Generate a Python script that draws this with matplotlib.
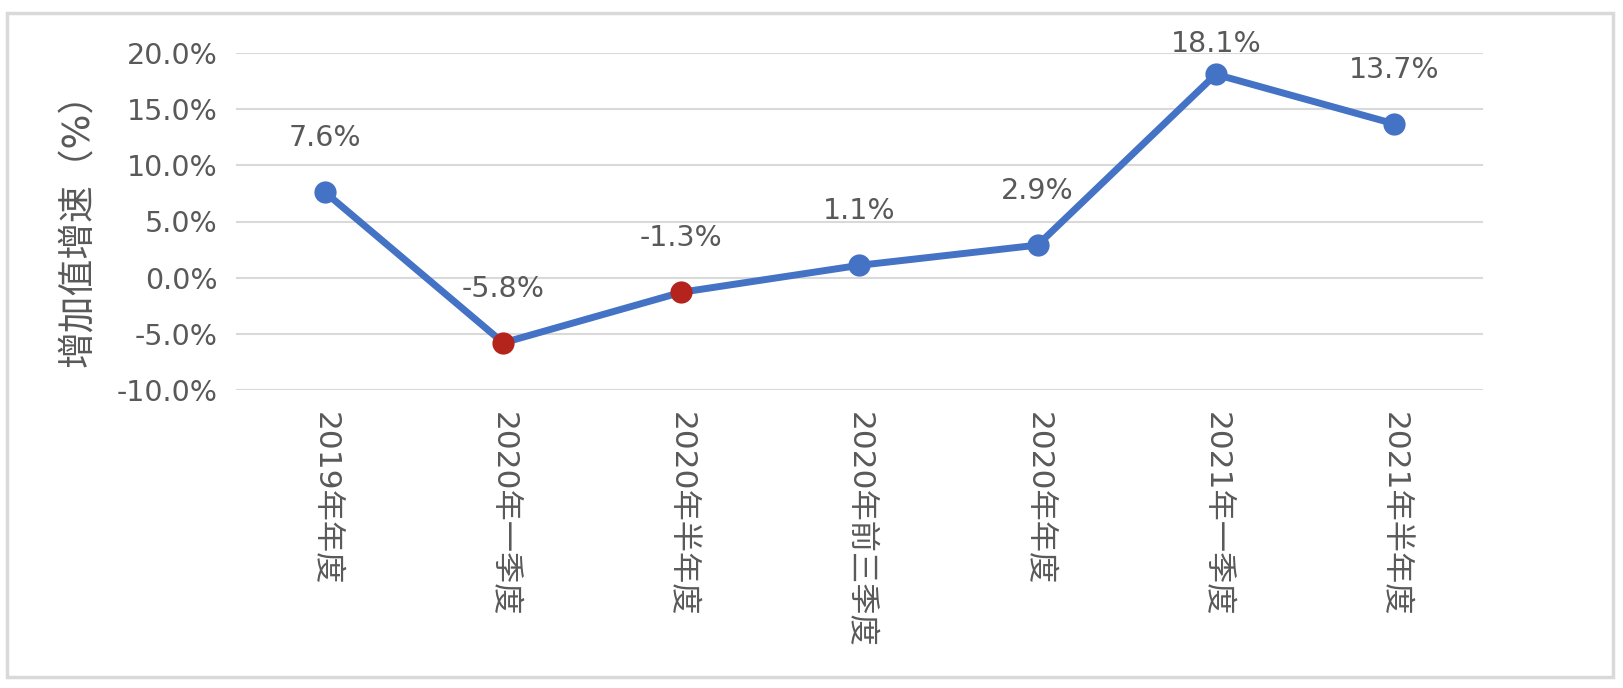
import matplotlib
matplotlib.use("Agg")
import matplotlib.pyplot as plt
from matplotlib.patches import Rectangle
from matplotlib.ticker import FuncFormatter

plt.rcParams['font.family'] = ['DejaVu Sans', 'Noto Sans CJK SC']

categories = ["2019年年度", "2020年一季度", "2020年半年度", "2020年前三季度",
              "2020年年度", "2021年一季度", "2021年半年度"]
values = [7.6, -5.8, -1.3, 1.1, 2.9, 18.1, 13.7]
highlight = [False, True, True, False, False, False, False]
y_ticks = [-10, -5, 0, 5, 10, 15, 20]
y_label = "增加值增速（%）"

line_color = "#4472C4"
red_color = "#B5231D"
text_color = "#595959"
grid_color = "#D9D9D9"

fig = plt.figure(figsize=(16.24, 6.88), dpi=100)
ax = fig.add_axes([236/1624, 1-390/688, (1483-236)/1624, (390-53)/688])

x = list(range(len(categories)))
ax.plot(x, values, color=line_color, lw=5, zorder=3, solid_capstyle='round')
for xi, v, h in zip(x, values, highlight):
    ax.plot([xi], [v], 'o', ms=16, color=red_color if h else line_color,
            markeredgewidth=0, zorder=4)
    off = 21.5 if v == max(values) else 39
    ax.annotate(f"{v:.1f}%", (xi, v), xytext=(0, off), textcoords='offset points',
                ha='center', va='center', fontsize=20.5, color=text_color, zorder=5)

ax.set_xlim(-0.5, len(categories) - 0.5)
ax.set_ylim(min(y_ticks), max(y_ticks))
ax.set_yticks(y_ticks)
ax.yaxis.set_major_formatter(FuncFormatter(lambda v, p: f"{v:.1f}%"))
ax.set_xticks(x)
ax.set_xticklabels(categories, rotation=-90, va='top', ha='center')
ax.tick_params(axis='x', length=0, pad=16, labelsize=22.5, labelcolor=text_color)
ax.tick_params(axis='y', length=0, pad=13, labelsize=20.5, labelcolor=text_color)
ax.grid(axis='y', color=grid_color, lw=1.5, zorder=0)
ax.set_axisbelow(True)
for s in ax.spines.values():
    s.set_visible(False)

fig.text(78/1624, 1-221/688, y_label, rotation=90, ha='center', va='center',
         fontsize=26.5, color=text_color)

fig.patches.append(Rectangle((7/1624, 1-677/688), (1613-7)/1624, (677-13)/688,
                             transform=fig.transFigure, fill=False,
                             edgecolor=grid_color, lw=2.5))

fig.savefig("out.png", dpi=100)
